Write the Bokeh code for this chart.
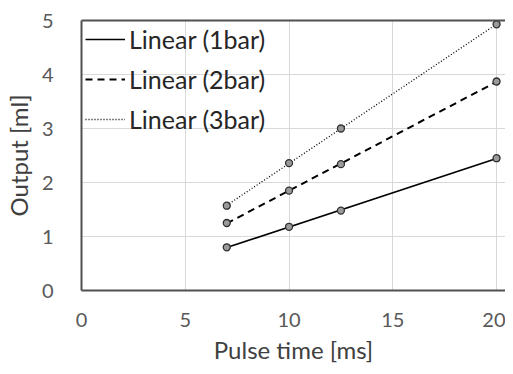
import numpy as np
from bokeh.plotting import figure
from bokeh.models import Range1d, LinearAxis, Legend, LegendItem, FixedTicker
from bokeh.embed import file_html
from bokeh.resources import INLINE

pulse = [7, 10, 12.5, 20]
out_1bar = [0.80, 1.18, 1.48, 2.45]
out_2bar = [1.25, 1.85, 2.34, 3.87]
out_3bar = [1.57, 2.36, 3.00, 4.93]
series_names = ["Linear (1bar)", "Linear (2bar)", "Linear (3bar)"]
x_ticks = [0, 5, 10, 15, 20]
y_ticks = [0, 1, 2, 3, 4, 5]

FONT = "Lato"
p = figure(width=505, height=366, output_backend="svg", toolbar_location=None,
           x_range=Range1d(0, 20.43), y_range=Range1d(0, 5),
           min_border_left=77, min_border_right=0, min_border_top=20, min_border_bottom=70)
p.outline_line_color = None
p.background_fill_color = "white"
p.border_fill_color = "white"

for ax in (p.xaxis[0], p.yaxis[0]):
    ax.axis_line_color = "#505050"
    ax.axis_line_width = 2
    ax.major_tick_line_color = None
    ax.minor_tick_line_color = None
    ax.major_label_text_font = FONT
    ax.major_label_text_font_size = "20px"
    ax.major_label_text_color = "#595959"
    ax.axis_label_text_font = FONT
    ax.axis_label_text_font_size = "24px"
    ax.axis_label_text_color = "#404040"
    ax.axis_label_text_font_style = "normal"
p.xaxis[0].ticker = FixedTicker(ticks=x_ticks)
p.yaxis[0].ticker = FixedTicker(ticks=y_ticks)
p.xaxis[0].axis_label = "Pulse time [ms]"
p.yaxis[0].axis_label = "Output [ml]"
p.xaxis[0].major_label_standoff = 16
p.xaxis[0].axis_label_standoff = 5
p.yaxis[0].major_label_standoff = 22
p.yaxis[0].axis_label_standoff = 6

top = LinearAxis(major_label_text_font_size="0px", major_tick_line_color=None,
                 minor_tick_line_color=None, axis_line_color="#505050", axis_line_width=2)
top.ticker = FixedTicker(ticks=[])
p.add_layout(top, "above")

p.xgrid.ticker = FixedTicker(ticks=x_ticks)
p.ygrid.ticker = FixedTicker(ticks=y_ticks)
p.xgrid.grid_line_color = "#d9d9d9"
p.ygrid.grid_line_color = "#d9d9d9"

styles = [("solid", 1.6), ("7 5", 2.0), ("1 2", 1.3)]
items = []
x_fit = np.array([min(pulse), max(pulse)])
for ys, name, (dash, w) in zip([out_1bar, out_2bar, out_3bar], series_names, styles):
    k, b = np.polyfit(pulse, ys, 1)
    r = p.line(x_fit, k * x_fit + b, line_color="black", line_width=w, line_dash=dash)
    items.append(LegendItem(label=name, renderers=[r]))
for ys in [out_1bar, out_2bar, out_3bar]:
    p.scatter(pulse, ys, size=7, fill_color="#9a9a9a", line_color="#303030", line_width=1.3)

legend = Legend(items=items, location="top_left", background_fill_alpha=0,
                border_line_color=None, label_text_font=FONT, label_text_font_size="25px",
                label_text_color="#262626", glyph_width=40, label_standoff=4,
                label_height=26, glyph_height=26, spacing=10, padding=4, margin=4)
p.add_layout(legend)

open("out.html", "w").write(file_html(p, INLINE))
